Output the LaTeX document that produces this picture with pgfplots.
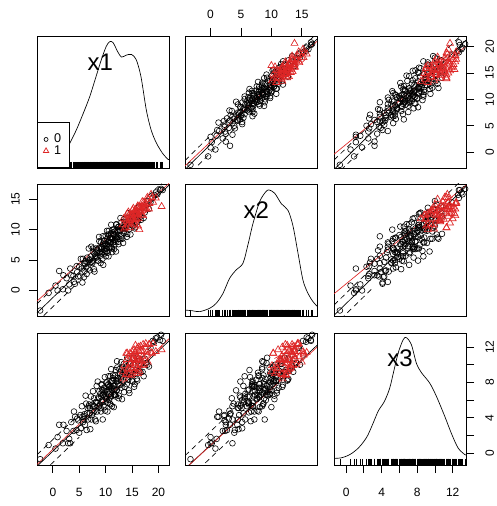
\documentclass[border=0pt]{standalone}
\usepackage{fontspec}
\setmainfont{Liberation Sans}
\usepackage{pgfplots}
\usepackage{pgfplotstable}
\pgfplotsset{compat=1.18}
\definecolor{rred}{RGB}{222,38,38}

\pgfplotstableread{
x1 x2 x3
-2.4 -3.3 -0.7
-0.8 -0.4 0.9
0.5 0.8 0.5
1.2 3.2 3.2
1.9 0.2 1.1
2.6 2.0 2.5
3.1 1.0 1.6
3.5 2.5 3.5
3.9 2.4 2.5
4.2 1.1 4.1
4.5 4.0 2.6
4.8 2.3 3.7
5.0 3.9 2.3
5.2 2.3 4.3
5.5 3.6 5.3
5.7 5.2 3.5
5.9 2.2 4.2
6.1 4.4 3.2
6.3 3.8 5.6
6.5 5.4 4.5
6.7 3.6 3.8
6.9 5.0 5.5
7.0 3.3 4.5
7.2 5.6 6.4
7.3 7.2 3.8
7.5 4.5 5.5
7.7 6.3 4.6
7.8 3.5 6.2
8.0 5.7 3.8
8.1 6.9 5.7
8.3 5.4 7.6
8.4 6.7 4.7
8.6 4.9 6.3
8.8 8.1 7.0
8.9 6.3 5.5
9.0 5.7 6.7
9.1 7.9 4.7
9.2 6.8 7.8
9.4 5.2 6.0
9.5 7.7 6.6
9.6 6.7 5.4
9.7 8.2 7.4
9.8 6.1 6.4
9.9 7.7 4.8
10.0 9.0 7.2
10.1 6.9 8.0
10.2 7.6 6.1
10.3 8.5 6.9
10.4 6.2 5.7
10.5 8.1 7.8
10.6 9.8 6.7
10.7 7.2 7.5
10.8 8.7 5.6
10.9 7.9 8.7
11.0 9.4 6.5
11.1 7.1 7.5
11.2 8.5 5.3
11.3 10.0 8.2
11.4 7.9 8.8
11.5 9.2 6.6
11.6 6.8 7.6
11.7 9.7 7.2
11.8 8.7 8.8
11.9 8.0 6.4
12.0 10.8 8.2
12.1 8.7 7.1
12.2 9.7 9.7
12.4 8.0 7.8
12.5 10.5 6.5
12.7 9.9 8.9
12.9 9.0 8.4
13.0 11.2 7.4
13.2 8.5 9.7
13.4 10.3 8.1
13.5 9.4 6.9
13.7 11.3 9.3
13.9 10.3 9.8
14.0 8.8 7.8
14.2 11.4 9.0
14.4 10.0 7.1
14.6 11.5 10.1
14.8 10.9 8.8
15.0 12.6 8.2
15.2 10.6 10.0
15.4 11.8 7.5
15.6 10.4 9.0
15.9 12.8 8.4
16.1 11.5 10.4
16.4 12.9 9.3
16.7 11.6 10.1
17.0 13.6 9.2
17.4 12.8 10.7
17.9 14.7 10.0
18.5 14.5 11.9
19.2 15.7 12.6
19.8 15.8 13.1
20.3 16.5 12.8
20.8 16.5 12.7
8.2 5.5 5.8
8.7 7.0 5.3
9.3 6.1 7.1
9.65 7.3 6.6
10.15 6.4 6.4
10.45 9.2 7.7
10.85 8.0 6.3
11.15 6.9 8.2
11.45 9.3 7.6
11.75 8.3 6.6
12.3 9.9 8.5
12.6 8.5 9.5
7.9 6.0 5.3
7.4 4.7 4.3
6.6 4.6 5.1
6.0 3.2 4.4
3.3 3.6 1.1
4.0 1.4 4.7
4.6 3.0 3.9
5.3 5.2 2.8
5.6 1.3 4.1
6.2 4.8 6.5
6.4 2.7 2.6
6.8 6.9 5.3
7.1 4.6 2.7
7.6 6.9 7.0
7.9 3.1 4.8
8.15 6.6 3.6
8.5 4.9 8.1
8.75 8.8 6.2
9.05 4.5 5.1
9.25 7.1 7.7
9.45 8.9 3.8
9.55 4.2 7.1
9.75 8.1 5.2
9.85 6.5 8.6
9.95 7.3 7.0
10.05 5.6 6.2
10.25 9.8 8.0
10.35 7.2 4.7
10.55 5.6 8.7
10.65 9.1 6.0
10.75 6.9 7.6
10.95 8.6 5.5
11.05 10.8 9.5
11.25 6.3 7.2
11.35 8.5 8.5
11.55 10.0 5.2
11.65 7.5 8.3
11.85 9.7 6.6
11.95 6.4 9.4
12.05 10.9 7.1
12.15 8.5 10.4
12.35 10.4 8.2
12.45 7.6 6.2
12.65 9.8 9.1
12.8 11.9 7.7
12.95 8.7 10.3
13.1 10.5 6.1
13.3 7.8 9.1
13.45 11.7 10.1
13.6 9.8 7.5
13.8 11.2 9.0
14.1 9.3 10.8
14.3 12.7 8.3
14.5 10.9 6.8
14.7 9.2 10.2
14.9 12.3 9.2
15.1 10.7 8.1
15.3 12.2 10.8
15.5 10.2 7.8
15.8 12.3 9.4
16.0 11.2 8.2
16.3 13.8 10.7
16.6 12.1 9.2
17.2 11.9 8.7
17.7 14.1 10.2
18.2 13.4 9.8
18.9 15.2 12.7
19.5 16.1 13.0
20.5 16.7 13.4
2.0 2.5 3.2
2.9 0.0 1.1
0.9 0.0 1.8
8.45 6.1 5.7
9.15 7.1 6.4
9.35 6.3 5.8
10.62 8.0 7.1
11.08 7.9 7.4
11.62 9.0 7.3
12.22 8.8 8.1
7.05 5.1 5.1
7.65 4.9 5.3
13.15 10.2 8.8
13.65 10.1 8.9
5.95 4.5 3.8
}\blk

\pgfplotstableread{
x1 x2 x3
13.2 10.8 9.2
13.5 10.1 9.9
13.8 11.7 8.9
14.0 11.3 10.6
14.2 10.9 9.6
14.4 12.4 8.9
14.5 11.5 10.6
14.7 12.3 10.1
14.8 10.9 9.6
15.0 12.2 11.5
15.1 13.2 9.6
15.2 11.9 10.7
15.3 12.7 9.2
15.5 11.7 10.5
15.6 13.3 11.4
15.7 12.6 10.2
15.8 11.7 11.0
15.9 13.1 9.7
16.0 12.7 11.9
16.1 13.9 10.7
16.2 12.5 9.5
16.3 13.7 11.5
16.5 13.0 10.5
16.6 13.7 12.1
16.8 12.4 10.5
16.9 13.8 11.5
17.0 13.1 9.9
17.2 14.5 11.5
17.4 13.6 10.5
17.6 14.3 12.4
17.8 13.4 11.4
18.0 15.0 10.3
18.3 14.3 12.3
18.6 15.8 11.4
19.0 14.5 12.4
19.5 15.2 11.5
14.1 12.6 11.3
15.4 11.1 11.7
16.4 10.0 9.2
20.6 13.8 11.7
13.9 10.3 11.3
14.3 12.9 9.5
14.6 10.3 11.3
14.9 12.4 8.8
15.05 11.6 10.6
15.25 13.5 11.1
15.45 10.8 9.9
15.65 12.6 12.2
15.85 11.8 9.0
16.05 13.8 10.9
16.25 11.8 12.0
16.45 13.6 9.9
16.7 12.9 11.6
16.95 14.6 10.9
17.1 12.3 12.3
17.3 14.1 10.0
17.55 13.4 12.0
17.9 15.3 11.1
18.2 13.4 12.3
18.8 15.3 11.3
13.4 11.8 8.4
16.15 10.6 9.0
14.75 11.8 10.2
15.95 12.8 10.6
}\rdt

\pgfplotsset{
  panel/.style={scale only axis, width=99pt, height=99pt, anchor=south west,
    xtick=\empty, ytick=\empty, axis line style={line width=0.7pt},
    tick align=outside, major tick length=6pt,
    every tick/.style={black, line width=0.6pt},
    ticklabel style={font=\fontsize{9}{10}\selectfont},
    /pgf/number format/assume math mode=true},
  bpts/.style={only marks, mark=o, mark size=2.15pt, black, mark options={line width=0.45pt}},
  rpts/.style={only marks, mark=triangle, mark size=3pt, rred, mark options={line width=0.5pt}},
  bl/.style={black, line width=0.5pt},
  bd/.style={black, line width=0.5pt, dash pattern=on 4pt off 3pt},
  rl/.style={rred, line width=0.5pt},
  rd/.style={rred, line width=0.5pt, dash pattern=on 4pt off 3pt},
  dens/.style={black, line width=0.5pt, smooth, tension=0.5},
  rug/.style={only marks, mark=|, mark size=2.25pt, black, mark options={yshift=2.25pt, line width=0.4pt}}
}
\tikzset{lab/.style={font=\fontsize{18}{20}\selectfont}}

\begin{document}
\begin{tikzpicture}
\path[use as bounding box] (0,0) rectangle (372pt,379.5pt);

% (1,1) density x1
\begin{axis}[panel, at={(27.75pt,253.5pt)}, xmin=-3, xmax=22, ymin=0, ymax=1,
  legend style={at={(0,0)}, anchor=south west, draw=black, line width=0.6pt,
    font=\fontsize{9.5}{10}\selectfont, inner xsep=4.5pt, inner ysep=7pt, row sep=-2.5pt, fill=white,
    nodes={inner sep=1.5pt},
    /tikz/every odd column/.append style={column sep=2.5pt}},
  legend cell align=left]
\addlegendimage{only marks, mark=o, mark size=1.5pt, black, mark options={line width=0.5pt}}
\addlegendentry{0}
\addlegendimage{only marks, mark=triangle, mark size=2.3pt, rred, mark options={line width=0.55pt}}
\addlegendentry{1}
\addplot[dens, forget plot] coordinates {(-3,0.02) (-1,0.04) (1,0.08) (2.2,0.13) (3.2,0.187) (4.47,0.29) (5.72,0.41) (6.98,0.54) (8.24,0.70) (9.18,0.82) (10.1,0.92) (10.75,0.957) (11.4,0.95) (12.3,0.88) (13.0,0.84) (13.9,0.855) (14.9,0.86) (15.8,0.82) (16.7,0.69) (17.7,0.44) (18.6,0.29) (19.6,0.19) (20.8,0.11) (21.8,0.066) (22,0.063)};
\addplot[rug, forget plot] table[x=x1, y expr=0]{\blk};
\addplot[rug, forget plot] table[x=x1, y expr=0]{\rdt};
\node[lab] at (rel axis cs:0.48,0.8) {x1};
\end{axis}

% (1,2) x = x2, y = x1
\begin{axis}[panel, at={(138.75pt,253.5pt)}, xmin=-4.2, xmax=17.5, ymin=-3, ymax=22,
  xtick={0,5,10,15}, xtick pos=right, xticklabel pos=right, xticklabel shift=3.5pt]
\addplot[bd] coordinates {(-4.2,-1.6) (0,3.2) (4,7.5)};
\addplot[bd] coordinates {(-4.2,-5.0) (0,-0.1) (4,4.5)};
\addplot[bd] coordinates {(14,18.7) (17.5,22.5)};
\addplot[bl] coordinates {(-4.2,-3.3) (17.5,21.4)};
\addplot[rl] coordinates {(-4.2,-2.6) (17.5,21.0)};
\addplot[bpts] table[x=x2, y=x1]{\blk};
\addplot[rpts] table[x=x2, y=x1]{\rdt};
\addplot[rl] coordinates {(10.0,13.9) (12,15.4) (14,17.1) (15.8,19.0)};
\addplot[rd] coordinates {(10.0,15.0) (12,16.6) (14,18.3) (15.8,20.2)};
\addplot[rd] coordinates {(10.0,12.8) (12,14.3) (14,15.9) (15.8,17.8)};
\end{axis}

% (1,3) x = x3, y = x1
\begin{axis}[panel, at={(250.5pt,253.5pt)}, xmin=-1.36, xmax=13.5, ymin=-3, ymax=22,
  ytick={0,5,10,15,20}, ytick pos=right, yticklabel pos=right, yticklabel shift=5pt,
  yticklabel style={rotate=90, anchor=north}]
\addplot[bd] coordinates {(-1.36,-1.5) (3.5,6.5)};
\addplot[bd] coordinates {(-1.36,-4.6) (1.8,0.4) (3.5,2.8)};
\addplot[bd] coordinates {(11.5,19.8) (13.5,23.0)};
\addplot[bl] coordinates {(-1.36,-3.3) (13.5,21.2)};
\addplot[rl] coordinates {(-1.36,-0.4) (13.5,20.1)};
\addplot[bpts] table[x=x3, y=x1]{\blk};
\addplot[rpts] table[x=x3, y=x1]{\rdt};
\addplot[rl] coordinates {(9.0,14.6) (10.5,16.0) (12.0,17.6)};
\addplot[rd] coordinates {(9.0,15.9) (10.5,17.3) (12.0,19.0)};
\addplot[rd] coordinates {(9.0,13.4) (10.5,14.7) (12.0,16.2)};
\end{axis}

% (2,1) x = x1, y = x2
\begin{axis}[panel, at={(27.75pt,142.5pt)}, xmin=-3, xmax=22, ymin=-4.2, ymax=17.5,
  ytick={0,5,10,15}, ytick pos=left, yticklabel shift=3.5pt,
  yticklabel style={rotate=90, anchor=south}]
\addplot[bd] coordinates {(-3,-2.2) (5,4.5)};
\addplot[bd] coordinates {(-3,-5.2) (5,1.5)};
\addplot[bd] coordinates {(18,15.5) (22,18.8)};
\addplot[bl] coordinates {(-3,-3.7) (22,17.3)};
\addplot[rl] coordinates {(-3,-1.75) (22,17.6)};
\addplot[bpts] table[x=x1, y=x2]{\blk};
\addplot[rpts] table[x=x1, y=x2]{\rdt};
\addplot[rl] coordinates {(13.5,10.9) (15,11.9) (16.5,13.0) (18,14.3)};
\addplot[rd] coordinates {(13.5,12.0) (15,13.0) (16.5,14.1) (18,15.4)};
\addplot[rd] coordinates {(13.5,9.8) (15,10.8) (16.5,11.9) (18,13.2)};
\end{axis}

% (2,2) density x2
\begin{axis}[panel, at={(138.75pt,142.5pt)}, xmin=-4.2, xmax=17.5, ymin=0, ymax=1]
\addplot[dens] coordinates {(-4.2,0.045) (-3,0.04) (-1.81,0.033) (-0.16,0.058) (0.93,0.096) (2.03,0.17) (3.13,0.285) (4.23,0.35) (5.33,0.40) (6.15,0.54) (6.97,0.70) (8.07,0.866) (9.06,0.94) (9.6,0.955) (10.54,0.93) (11.65,0.85) (12.74,0.80) (13.56,0.68) (14.38,0.475) (15.2,0.27) (16.03,0.17) (16.85,0.108) (17.5,0.075)};
\addplot[rug] table[x=x2, y expr=0]{\blk};
\addplot[rug] table[x=x2, y expr=0]{\rdt};
\node[lab] at (rel axis cs:0.54,0.8) {x2};
\end{axis}

% (2,3) x = x3, y = x2
\begin{axis}[panel, at={(250.5pt,142.5pt)}, xmin=-1.36, xmax=13.5, ymin=-4.2, ymax=17.5]
\addplot[bd] coordinates {(-1.36,-2.4) (3,3.8)};
\addplot[bd] coordinates {(-1.36,-5.8) (3,0.4)};
\addplot[bd] coordinates {(11.5,16.0) (13.5,18.8)};
\addplot[bl] coordinates {(-1.36,-4.1) (13.5,17.1)};
\addplot[rl] coordinates {(-1.36,-0.55) (13.5,17.3)};
\addplot[bpts] table[x=x3, y=x2]{\blk};
\addplot[rpts] table[x=x3, y=x2]{\rdt};
\addplot[rl] coordinates {(9.0,11.8) (10.5,12.9) (12.0,14.2)};
\addplot[rd] coordinates {(9.0,12.9) (10.5,14.0) (12.0,15.4)};
\addplot[rd] coordinates {(9.0,10.7) (10.5,11.8) (12.0,13.0)};
\end{axis}

% (3,1) x = x1, y = x3
\begin{axis}[panel, at={(27.75pt,30.75pt)}, xmin=-3, xmax=22, ymin=-1.36, ymax=13.6,
  xtick={0,5,10,15,20}, xtick pos=left, xticklabel shift=8pt]
\addplot[bd] coordinates {(-3,-0.2) (5,4.4)};
\addplot[bd] coordinates {(-3,-2.8) (5,1.8)};
\addplot[bd] coordinates {(18,11.7) (22,14.0)};
\addplot[bl] coordinates {(-3,-1.5) (22,12.7)};
\addplot[rl] coordinates {(-3,-1.3) (22,12.95)};
\addplot[bpts] table[x=x1, y=x3]{\blk};
\addplot[rpts] table[x=x1, y=x3]{\rdt};
\addplot[rl] coordinates {(13.5,9.6) (15,10.2) (16.5,10.8) (18,11.4)};
\addplot[rd] coordinates {(13.5,10.6) (15,11.3) (16.5,11.9) (18,12.5)};
\addplot[rd] coordinates {(13.5,8.7) (15,9.2) (16.5,9.8) (18,10.3)};
\end{axis}

% (3,2) x = x2, y = x3
\begin{axis}[panel, at={(138.75pt,30.75pt)}, xmin=-4.2, xmax=17.5, ymin=-1.36, ymax=13.6]
\addplot[bd] coordinates {(-4.2,-0.3) (3,4.4)};
\addplot[bd] coordinates {(-4.2,-3.3) (3,1.4)};
\addplot[bd] coordinates {(14.5,11.7) (17.5,13.7)};
\addplot[bl] coordinates {(-4.2,-1.8) (17.5,12.2)};
\addplot[rl] coordinates {(-4.2,-1.8) (17.5,12.0)};
\addplot[bpts] table[x=x2, y=x3]{\blk};
\addplot[rpts] table[x=x2, y=x3]{\rdt};
\addplot[rl] coordinates {(10.5,9.7) (12,10.3) (13.5,10.8) (15,11.4)};
\addplot[rd] coordinates {(10.5,10.7) (12,11.3) (13.5,11.9) (15,12.5)};
\addplot[rd] coordinates {(10.5,8.7) (12,9.3) (13.5,9.8) (15,10.3)};
\end{axis}

% (3,3) density x3
\begin{axis}[panel, at={(250.5pt,30.75pt)}, xmin=-1.36, xmax=13.5, ymin=0, ymax=1,
  xtick={0,2,4,6,8,10,12}, xticklabels={0,,4,,8,,12}, xtick pos=left, xticklabel shift=8pt,
  ytick={0.0909,0.2246,0.3583,0.4920,0.6257,0.7594,0.8930}, yticklabels={0,,4,,8,,12},
  ytick pos=right, yticklabel pos=right, yticklabel shift=5pt,
  yticklabel style={rotate=90, anchor=north}]
\addplot[dens] coordinates {(-1.36,0.05) (-0.5,0.055) (0.45,0.08) (1.4,0.13) (2.32,0.21) (3.0,0.31) (3.63,0.41) (4.3,0.48) (4.9,0.58) (5.4,0.72) (5.87,0.85) (6.43,0.95) (6.8,0.965) (7.36,0.91) (7.92,0.77) (8.48,0.70) (9.42,0.62) (10.17,0.52) (11.1,0.37) (11.85,0.24) (12.6,0.13) (13.34,0.08) (13.5,0.075)};
\addplot[rug] table[x=x3, y expr=0]{\blk};
\addplot[rug] table[x=x3, y expr=0]{\rdt};
\node[lab] at (rel axis cs:0.5,0.81) {x3};
\end{axis}
\end{tikzpicture}
\end{document}
